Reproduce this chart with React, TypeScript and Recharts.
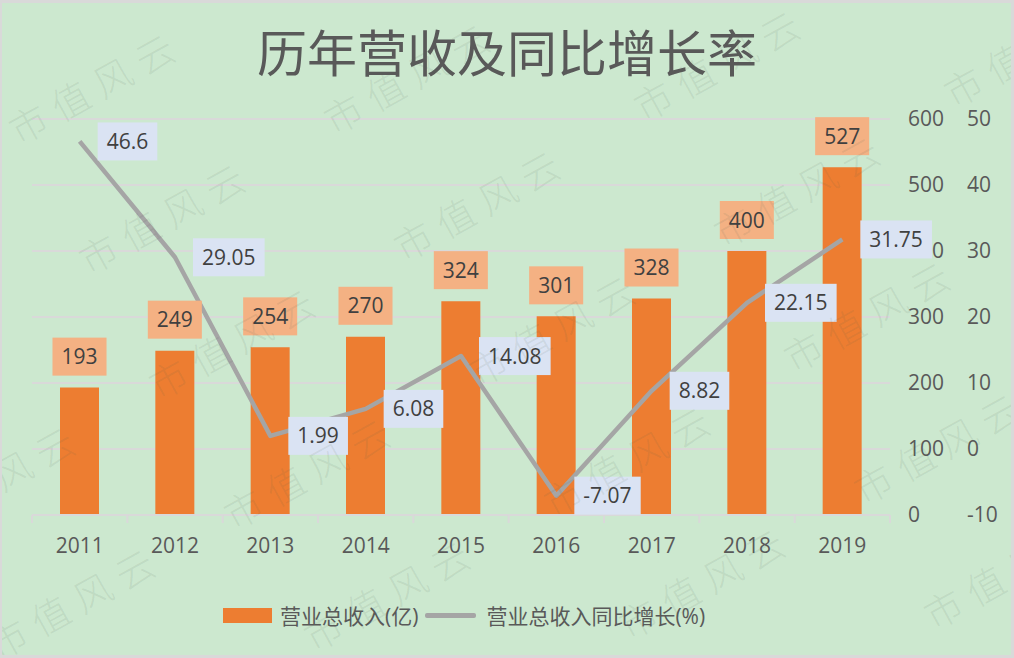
import { ComposedChart, Bar, Line, XAxis, YAxis, CartesianGrid, LabelList, Legend } from 'recharts';

const years = ['2011', '2012', '2013', '2014', '2015', '2016', '2017', '2018', '2019'];
const revenue = [193, 249, 254, 270, 324, 301, 328, 400, 527];
const growth = [46.6, 29.05, 1.99, 6.08, 14.08, -7.07, 8.82, 22.15, 31.75];
const revenueTicks = [0, 100, 200, 300, 400, 500, 600];
const growthTicks = [-10, 0, 10, 20, 30, 40, 50];

const data = years.map((year, i) => ({ year, revenue: revenue[i], growth: growth[i] }));

// watermark centres (decoration only)
const marks = [
  [95, 85], [410, 75], [720, 62], [1030, 48],
  [165, 215], [480, 202], [800, 188],
  [-80, 352], [235, 340], [555, 327], [870, 313],
  [-5, 478], [310, 470], [630, 458], [940, 445],
  [75, 600], [390, 592], [705, 580], [1010, 570],
];

const W = 1014;
const H = 658;
const M = { top: 119, right: 0, bottom: 25, left: 32 };
const AXIS1 = 60;
const AXIS2 = 64;
const BAND = (W - M.left - AXIS1 - AXIS2) / years.length;

const BG = '#CCE8CF';
const GRID = '#d9d9d9';
const ORANGE = '#ED7D31';
const GRAY = '#A5A5A5';
const TXT = '#595959';
const LBL = '#404040';
const FONT = '"Open Sans", "Noto Sans CJK SC", sans-serif';
const FS = 21;

const textWidth = (s: string) =>
  s.split('').reduce((w, c) => w + (c === '.' ? 0.266 : c === '-' ? 0.322 : 0.572) * FS, 0);

function YearTick({ x, y, payload, index }: any) {
  return (
    <g>
      <line x1={x - BAND / 2} x2={x - BAND / 2} y1={y} y2={y + 8} stroke={GRID} strokeWidth={2} />
      {index === years.length - 1 && (
        <line x1={x + BAND / 2} x2={x + BAND / 2} y1={y} y2={y + 8} stroke={GRID} strokeWidth={2} />
      )}
      <text x={x} y={y + 38} textAnchor="middle" fill={TXT} fontSize={FS} fontFamily={FONT}>
        {payload.value}
      </text>
    </g>
  );
}

function RevenueLabel({ x, y, width, value }: any) {
  const s = String(value);
  const w = textWidth(s) + 18;
  const cx = Number(x) + Number(width) / 2;
  const top = Number(y) - 12 - 38;
  return (
    <g>
      <rect x={cx - w / 2} y={top} width={w} height={38} fill="#F4B183" />
      <text x={cx} y={top + 26.5} textAnchor="middle" fill={LBL} fontSize={FS} fontFamily={FONT}>
        {s}
      </text>
    </g>
  );
}

function GrowthLabel({ x, y, value }: any) {
  const s = String(value);
  const w = textWidth(s) + 18;
  const left = Number(x) + 18;
  const cy = Number(y);
  return (
    <g>
      <rect x={left} y={cy - 19} width={w} height={38} fill="#DAE3F3" />
      <text x={left + 9} y={cy + 7.5} fill={LBL} fontSize={FS} fontFamily={FONT}>
        {s}
      </text>
    </g>
  );
}

function LegendBox() {
  return (
    <div style={{ height: 36, display: 'flex', alignItems: 'center', paddingLeft: 223, fontFamily: FONT, fontSize: FS, color: TXT }}>
      <span style={{ display: 'inline-block', width: 49, height: 15, background: ORANGE, marginRight: 8 }} />
      <span>营业总收入(亿)</span>
      <span style={{ display: 'inline-block', width: 51, height: 5, borderRadius: 2, background: GRAY, margin: '0 10px 0 7px' }} />
      <span>营业总收入同比增长(%)</span>
    </div>
  );
}

export default function App() {
  return (
    <div style={{ position: 'absolute', left: 0, top: 0, width: W, height: H, background: BG, overflow: 'hidden', fontFamily: FONT }}>
      <ComposedChart width={W} height={H} data={data} margin={M}>
        <CartesianGrid yAxisId="a" vertical={false} stroke={GRID} strokeWidth={2} />
        <XAxis
          dataKey="year"
          height={82}
          interval={0}
          axisLine={{ stroke: GRID, strokeWidth: 2 }}
          tickLine={false}
          tickSize={0}
          tickMargin={0}
          tick={<YearTick />}
        />
        <YAxis
          yAxisId="b"
          orientation="right"
          domain={[-10, 50]}
          ticks={growthTicks}
          interval={0}
          width={AXIS2}
          axisLine={false}
          tickLine={false}
          tickSize={0}
          tickMargin={17}
          tick={{ fill: TXT, fontSize: FS, fontFamily: FONT, textAnchor: 'start' }}
        />
        <YAxis
          yAxisId="a"
          orientation="right"
          domain={[0, 600]}
          ticks={revenueTicks}
          interval={0}
          width={AXIS1}
          axisLine={false}
          tickLine={false}
          tickSize={0}
          tickMargin={18}
          tick={{ fill: TXT, fontSize: FS, fontFamily: FONT, textAnchor: 'start' }}
        />
        <Legend verticalAlign="bottom" wrapperStyle={{ left: 0, width: W }} content={() => <LegendBox />} />
        <Bar yAxisId="a" dataKey="revenue" name="营业总收入(亿)" fill={ORANGE} barSize={39} isAnimationActive={false}>
          <LabelList dataKey="revenue" content={<RevenueLabel />} />
        </Bar>
        <Line
          yAxisId="b"
          dataKey="growth"
          name="营业总收入同比增长(%)"
          type="linear"
          stroke={GRAY}
          strokeWidth={4.5}
          strokeLinejoin="round"
          dot={false}
          activeDot={false}
          isAnimationActive={false}
        >
          <LabelList dataKey="growth" content={<GrowthLabel />} />
        </Line>
      </ComposedChart>
      <div
        style={{
          position: 'absolute', left: 0, top: 25, width: W, textAlign: 'center',
          fontFamily: '"Noto Sans CJK SC", sans-serif', fontSize: 50, lineHeight: 1, letterSpacing: 0, color: TXT,
        }}
      >
        历年营收及同比增长率
      </div>
      {marks.map(([cx, cy], i) => (
        <div
          key={i}
          style={{
            position: 'absolute', left: cx, top: cy, transform: 'translate(-50%, -50%) rotate(-29deg)',
            whiteSpace: 'nowrap', fontFamily: '"Noto Sans CJK SC", sans-serif', fontWeight: 300,
            fontSize: 38, letterSpacing: 10, color: 'rgba(80,100,80,0.11)', pointerEvents: 'none',
          }}
        >
          市值风云
        </div>
      ))}
      <div style={{ position: 'absolute', inset: 0, borderStyle: 'solid', borderColor: GRID, borderWidth: '3px 3px 3px 2px', pointerEvents: 'none' }} />
    </div>
  );
}
